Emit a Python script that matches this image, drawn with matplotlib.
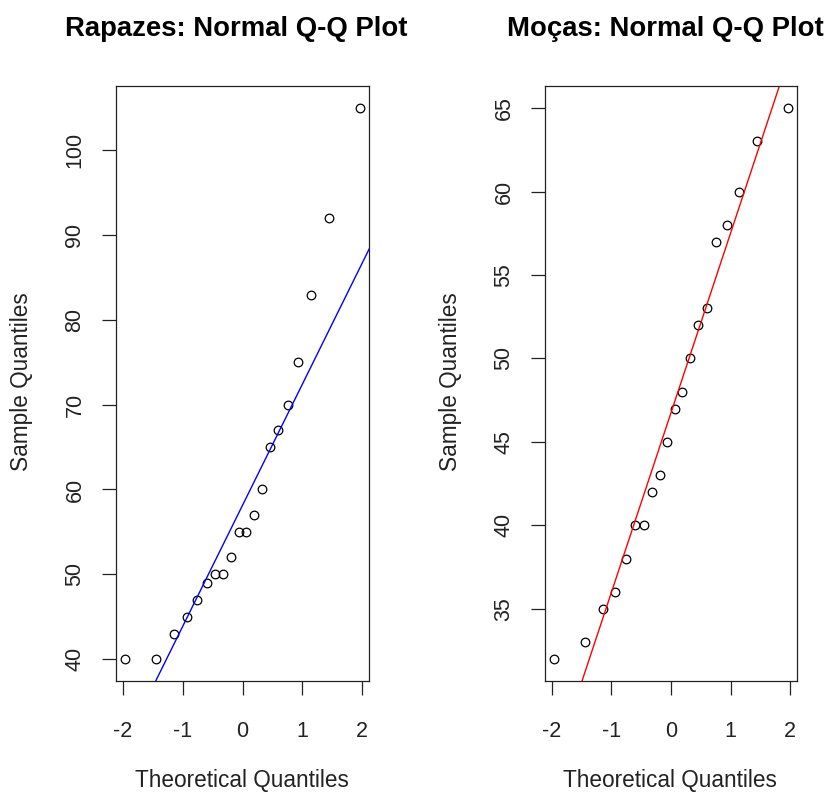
import matplotlib
matplotlib.use("Agg")
import matplotlib.pyplot as plt
import numpy as np
from statistics import NormalDist

plt.rcParams['font.family'] = ['Liberation Sans', 'DejaVu Sans']

rapazes = [40, 40, 43, 45, 47, 49, 50, 50, 52, 55, 55, 57, 60, 65, 67, 70, 75, 83, 92, 105]
mocas = [32, 33, 35, 36, 38, 40, 40, 42, 43, 45, 47, 48, 50, 52, 53, 57, 58, 60, 63, 65]
titles = ["Rapazes: Normal Q-Q Plot", "Moças: Normal Q-Q Plot"]
line_colors = ["blue", "red"]
x_ticks = [-2, -1, 0, 1, 2]
y_ticks_rapazes = [40, 50, 60, 70, 80, 90, 100]
y_ticks_mocas = [35, 40, 45, 50, 55, 60, 65]

def ppoints(n):
    a = 3/8 if n <= 10 else 0.5
    return [(i + 1 - a) / (n + 1 - 2 * a) for i in range(n)]

def theo(n):
    nd = NormalDist()
    return np.array([nd.inv_cdf(p) for p in ppoints(n)])

def q7(v, p):
    v = np.sort(np.asarray(v, float))
    h = (len(v) - 1) * p
    lo = int(np.floor(h))
    return v[lo] + (h - lo) * (v[min(lo + 1, len(v) - 1)] - v[lo])

def r_range(lo, hi):
    d = (hi - lo) * 0.04
    return lo - d, hi + d

W, H = 837, 792
fig = plt.figure(figsize=(W / 100, H / 100), dpi=100)
fs_tick = 15.5
fs_lab = 16.3
fs_title = 19.8

positions = [(116, 369), (545, 797)]
top, bottom = 86, 681
datasets = [rapazes, mocas]
yticks_list = [y_ticks_rapazes, y_ticks_mocas]

for k in range(2):
    x0, x1 = positions[k]
    ax = fig.add_axes([x0 / W, 1 - bottom / H, (x1 - x0) / W, (bottom - top) / H])
    y = np.sort(np.array(datasets[k], float))
    x = theo(len(y))
    ax.plot(x, y, linestyle='none', marker='o', markersize=6.2,
            markerfacecolor='none', markeredgecolor='black', markeredgewidth=0.9)
    # qqline through quartiles
    nd = NormalDist()
    yq1, yq3 = q7(y, 0.25), q7(y, 0.75)
    xq1, xq3 = nd.inv_cdf(0.25), nd.inv_cdf(0.75)
    slope = (yq3 - yq1) / (xq3 - xq1)
    inter = yq1 - slope * xq1
    xl = np.array([-5, 5])
    ax.plot(xl, inter + slope * xl, color=line_colors[k], linewidth=1.0)
    ax.set_xlim(*r_range(x.min(), x.max()))
    ax.set_ylim(*r_range(y.min(), y.max()))
    ax.set_xticks(x_ticks)
    ax.set_xticklabels([str(t) for t in x_ticks])
    ax.set_yticks(yticks_list[k])
    ax.set_yticklabels([str(t) for t in yticks_list[k]], rotation=90, va='center')
    ax.tick_params(direction='out', length=10, width=0.9, labelsize=fs_tick,
                   colors='#222222', labelcolor='#222222')
    ax.tick_params(axis='x', pad=19)
    ax.tick_params(axis='y', pad=12)
    for s in ax.spines.values():
        s.set_linewidth(0.9)
        s.set_color('#222222')
    cx = (x0 + x1) / 2
    fig.text((cx - 6) / W, 1 - 29 / H, titles[k], ha='center', va='center',
             fontsize=fs_title, fontweight='bold')
    fig.text((cx - 1) / W, 1 - 781 / H, "Theoretical Quantiles", ha='center', va='center',
             fontsize=fs_lab, color='#222222')
    fig.text((x0 - 94) / W, 1 - 382 / H, "Sample Quantiles", ha='center', va='center',
             rotation=90, fontsize=fs_lab, color='#222222')

fig.savefig("out.png", dpi=100, facecolor='white')
